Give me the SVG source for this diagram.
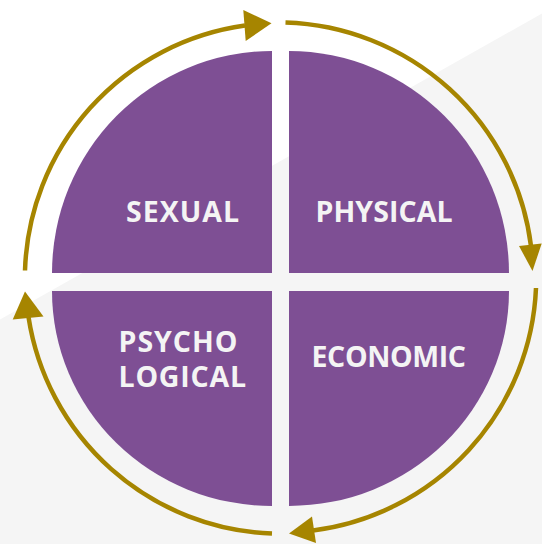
<svg xmlns="http://www.w3.org/2000/svg" width="542" height="544" viewBox="0 0 542 544">
<style>
.q{fill:#7E4F94}
.t{font-family:"Open Sans","Liberation Sans",sans-serif;font-weight:bold;font-size:28.5px;fill:#F4F4F4}
.arc{fill:none;stroke:#A68500;stroke-width:4.5}
.ah{fill:#A68500}
</style>
<rect x="0" y="0" width="542" height="544" fill="#FFFFFF"/>
<polygon points="0,319.5 542,13.5 542,544 0,544" fill="#F5F5F5"/>
<g id="sexual">
<path class="q" d="M272,273 L52,273 A220,222 0 0 1 272,51 Z"/>
<text class="t" x="126" y="222.3" textLength="113" lengthAdjust="spacing">SEXUAL</text>
</g>
<g id="physical">
<path class="q" d="M289,273 L289,51 A220,222 0 0 1 509,273 Z"/>
<text class="t" x="315.5" y="222.3" textLength="137" lengthAdjust="spacing">PHYSICAL</text>
</g>
<g id="psychological">
<path class="q" d="M272,291 L272,506 A220,215 0 0 1 52,291 Z"/>
<text class="t" x="118.5" y="352" textLength="119" lengthAdjust="spacing">PSYCHO</text>
<text class="t" x="118.5" y="386.5" textLength="127.5" lengthAdjust="spacing">LOGICAL</text>
</g>
<g id="economic">
<path class="q" d="M289,291 L509,291 A220,215 0 0 1 289,506 Z"/>
<text class="t" x="311.5" y="367" textLength="154.5" lengthAdjust="spacing">ECONOMIC</text>
</g>
<g id="connectors">
<path class="arc" d="M25,270.5 A255.5,255.5 0 0 1 245,25.5"/>
<polygon class="ah" points="271.5,23.3 243.3,10 245.7,41"/>
<path class="arc" d="M285.5,22.5 A255.5,255.5 0 0 1 531,246"/>
<polygon class="ah" points="532.5,271 519,246 541.7,243.5"/>
<path class="arc" d="M536,288 A255.5,255.5 0 0 1 313,530.5"/>
<polygon class="ah" points="289,533.5 312,516.5 316,543"/>
<path class="arc" d="M272,533.5 A255.5,255.5 0 0 1 28.5,317"/>
<polygon class="ah" points="25,291.5 12.7,319.5 43.5,316.5"/>
</g>
</svg>
